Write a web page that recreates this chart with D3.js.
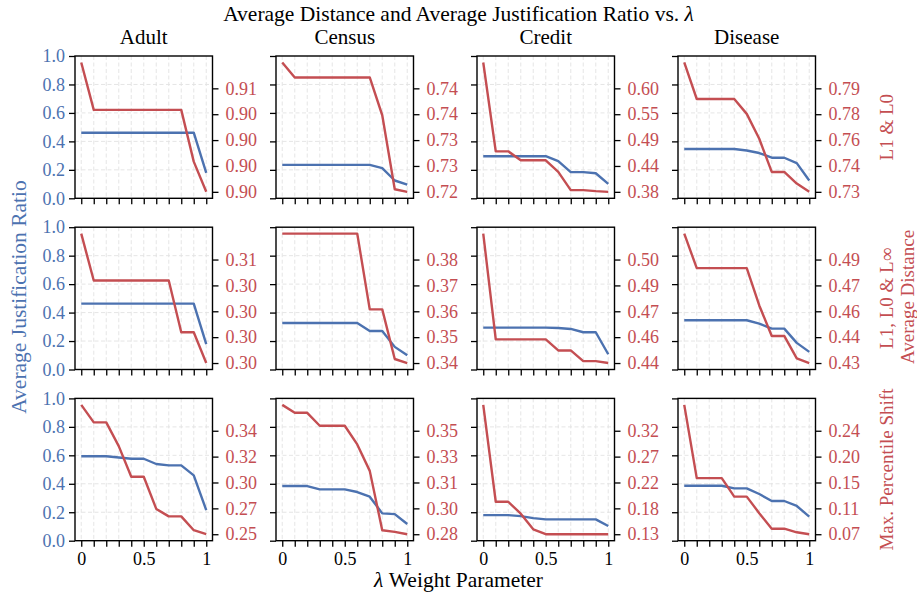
<!DOCTYPE html>
<meta charset="utf-8">
<script src="https://cdn.jsdelivr.net/npm/d3@7/dist/d3.min.js"></script>
<style>
  body { margin: 0; background: #fff; }
  svg text { font-family: "Liberation Serif", "DejaVu Serif", serif !important; }
</style>
<svg id="graph" width="917" height="594"></svg>
<script>

// lambda values on the x axis
var lambdas = [0, 0.1, 0.2, 0.3, 0.4, 0.5, 0.6, 0.7, 0.8, 0.9, 1];
var datasets = ["Adult", "Census", "Credit", "Disease"];
var rowLabels = ["L1 & L0", "L1, L0 & L\u221E", "Max. Percentile Shift"];

// average justification ratio (left axis, blue), one row per metric
var ratioL1L0 = [
  [0.461, 0.461, 0.461, 0.461, 0.461, 0.461, 0.461, 0.461, 0.461, 0.461, 0.179],
  [0.235, 0.235, 0.235, 0.235, 0.235, 0.235, 0.235, 0.235, 0.212, 0.125, 0.096],
  [0.296, 0.296, 0.296, 0.296, 0.296, 0.296, 0.261, 0.184, 0.184, 0.176, 0.101],
  [0.346, 0.346, 0.346, 0.346, 0.346, 0.336, 0.318, 0.285, 0.285, 0.247, 0.125]
];
var ratioL1L0Linf = [
  [0.463, 0.463, 0.463, 0.463, 0.463, 0.463, 0.463, 0.463, 0.463, 0.463, 0.178],
  [0.327, 0.327, 0.327, 0.327, 0.327, 0.327, 0.327, 0.271, 0.271, 0.159, 0.100],
  [0.294, 0.294, 0.294, 0.294, 0.294, 0.294, 0.292, 0.285, 0.262, 0.262, 0.107],
  [0.346, 0.346, 0.346, 0.346, 0.346, 0.346, 0.322, 0.287, 0.287, 0.187, 0.124]
];
var ratioPercentile = [
  [0.593, 0.593, 0.593, 0.585, 0.576, 0.576, 0.539, 0.529, 0.529, 0.459, 0.215],
  [0.384, 0.384, 0.384, 0.361, 0.361, 0.361, 0.342, 0.309, 0.192, 0.187, 0.117],
  [0.180, 0.180, 0.180, 0.173, 0.159, 0.150, 0.150, 0.150, 0.150, 0.150, 0.103],
  [0.386, 0.386, 0.386, 0.386, 0.368, 0.368, 0.328, 0.279, 0.279, 0.244, 0.169]
];

// average distance (right axis, red)
var distL1L0 = [
  [0.9080, 0.9047, 0.9047, 0.9047, 0.9047, 0.9047, 0.9047, 0.9047, 0.9047, 0.9011, 0.8990],
  [0.7455, 0.7426, 0.7426, 0.7426, 0.7426, 0.7426, 0.7426, 0.7426, 0.7353, 0.7210, 0.7205],
  [0.6530, 0.4675, 0.4675, 0.4489, 0.4489, 0.4489, 0.4246, 0.3865, 0.3865, 0.3844, 0.3830],
  [0.8080, 0.7854, 0.7854, 0.7854, 0.7854, 0.7762, 0.7608, 0.7403, 0.7403, 0.7331, 0.7280]
];
var distL1L0Linf = [
  [0.3075, 0.3046, 0.3046, 0.3046, 0.3046, 0.3046, 0.3046, 0.3046, 0.3014, 0.3014, 0.2995],
  [0.3890, 0.3890, 0.3890, 0.3890, 0.3890, 0.3890, 0.3890, 0.3609, 0.3609, 0.3425, 0.3410],
  [0.5155, 0.4542, 0.4542, 0.4542, 0.4542, 0.4542, 0.4478, 0.4478, 0.4416, 0.4416, 0.4405],
  [0.5050, 0.4850, 0.4850, 0.4850, 0.4850, 0.4850, 0.4634, 0.4457, 0.4457, 0.4327, 0.4300]
];
var distPercentile = [
  [0.3635, 0.3482, 0.3482, 0.3275, 0.3007, 0.3007, 0.2726, 0.2661, 0.2661, 0.2540, 0.2505],
  [0.3675, 0.3621, 0.3621, 0.3533, 0.3533, 0.3533, 0.3406, 0.3226, 0.2822, 0.2811, 0.2795],
  [0.3660, 0.1885, 0.1885, 0.1667, 0.1380, 0.1290, 0.1290, 0.1290, 0.1290, 0.1290, 0.1290],
  [0.2825, 0.1622, 0.1622, 0.1622, 0.1318, 0.1318, 0.1046, 0.0791, 0.0791, 0.0732, 0.0700]
];

// right axis tick labels, bottom to top
var distTicksL1L0 = [
  ["0.90", "0.90", "0.90", "0.90", "0.91"],
  ["0.72", "0.73", "0.73", "0.74", "0.74"],
  ["0.38", "0.44", "0.49", "0.55", "0.60"],
  ["0.73", "0.74", "0.76", "0.78", "0.79"]
];
var distTicksL1L0Linf = [
  ["0.30", "0.30", "0.30", "0.30", "0.31"],
  ["0.34", "0.35", "0.36", "0.37", "0.38"],
  ["0.44", "0.46", "0.47", "0.49", "0.50"],
  ["0.43", "0.44", "0.46", "0.47", "0.49"]
];
var distTicksPercentile = [
  ["0.25", "0.27", "0.30", "0.32", "0.34"],
  ["0.28", "0.30", "0.31", "0.33", "0.35"],
  ["0.13", "0.18", "0.22", "0.27", "0.32"],
  ["0.07", "0.11", "0.15", "0.20", "0.24"]
];
var ratioTicks = [0, 0.2, 0.4, 0.6, 0.8, 1.0];
var lambdaLabels = {0: "0", 0.5: "0.5", 1: "1"};

var ratioRows = [ratioL1L0, ratioL1L0Linf, ratioPercentile];
var distRows = [distL1L0, distL1L0Linf, distPercentile];
var tickRows = [distTicksL1L0, distTicksL1L0Linf, distTicksPercentile];

var blue = "#4C72B0", red = "#C44E52";
var serif = "'Liberation Serif', 'DejaVu Serif', serif";

var svg = d3.select("#graph"),
    W = +svg.attr("width"),
    plotW = 137.5, plotH = 142.3,
    left0 = 75, colStep = 201,
    top0 = 56, rowStep = 171.2;

var x = d3.scaleLinear().domain([-0.05, 1.05]).range([0, plotW]);
var yL = d3.scaleLinear().domain([0, 1]).range([plotH, 0]);

for (var r = 0; r < 3; r++) {
  for (var c = 0; c < 4; c++) {
    drawPanel(r, c);
  }
}

function drawPanel(r, c) {
  var g = svg.append("g")
      .attr("transform", "translate(" + (left0 + c * colStep) + "," + (top0 + r * rowStep) + ")");

  var ratio = ratioRows[r][c], dist = distRows[r][c], labels = tickRows[r][c];
  var lo = d3.min(dist), hi = d3.max(dist), span = hi - lo;
  var yR = d3.scaleLinear().domain([lo - 0.05 * span, hi + 0.05 * span]).range([plotH, 0]);
  var rTicks = labels.map(function(d, i) { return lo + i * span / 5; });

  // grid
  g.append("g").selectAll("line").data(lambdas).enter().append("line")
      .attr("x1", function(d) { return x(d); }).attr("x2", function(d) { return x(d); })
      .attr("y1", 0).attr("y2", plotH)
      .attr("stroke", "#e2e2e2").attr("stroke-width", 0.9).attr("stroke-dasharray", "4,2.5");
  g.append("g").selectAll("line").data(ratioTicks.slice(1, 5)).enter().append("line")
      .attr("x1", 0).attr("x2", plotW)
      .attr("y1", function(d) { return yL(d); }).attr("y2", function(d) { return yL(d); })
      .attr("stroke", "#e2e2e2").attr("stroke-width", 0.9).attr("stroke-dasharray", "4,2.5");

  // x axis
  var xAxis = d3.axisBottom(x).tickValues(lambdas).tickSize(6).tickPadding(6)
      .tickFormat(function(d) { return r == 2 && lambdaLabels[d] !== undefined ? lambdaLabels[d] : ""; });
  var gx = g.append("g").attr("transform", "translate(0," + plotH + ")").call(xAxis)
      .attr("font-family", serif).attr("font-size", 18);
  gx.select(".domain").remove();
  gx.selectAll("line").attr("stroke", "#000").attr("stroke-width", 1.3);
  gx.selectAll("text").attr("fill", "#000");

  // left axis
  var yAxisL = d3.axisLeft(yL).tickValues(ratioTicks).tickSize(6).tickPadding(4)
      .tickFormat(function(d) { return c == 0 ? d3.format(".1f")(d) : ""; });
  var gl = g.append("g").call(yAxisL)
      .attr("font-family", serif).attr("font-size", 18);
  gl.select(".domain").remove();
  gl.selectAll("line").attr("stroke", "#000").attr("stroke-width", 1.3);
  gl.selectAll("text").attr("fill", blue);

  // right axis
  var yAxisR = d3.axisRight(yR).tickValues(rTicks).tickSize(6).tickPadding(7)
      .tickFormat(function(d, i) { return labels[i]; });
  var gr = g.append("g").attr("transform", "translate(" + plotW + ",0)").call(yAxisR)
      .attr("font-family", serif).attr("font-size", 18);
  gr.select(".domain").remove();
  gr.selectAll("line").attr("stroke", "#000").attr("stroke-width", 1.3);
  gr.selectAll("text").attr("fill", red);

  // lines
  var lineL = d3.line().x(function(d, i) { return x(lambdas[i]); }).y(function(d) { return yL(d); });
  var lineR = d3.line().x(function(d, i) { return x(lambdas[i]); }).y(function(d) { return yR(d); });
  g.append("path").attr("d", lineL(ratio))
      .attr("fill", "none").attr("stroke", blue).attr("stroke-width", 2.4).attr("stroke-linejoin", "round");
  g.append("path").attr("d", lineR(dist))
      .attr("fill", "none").attr("stroke", red).attr("stroke-width", 2.4).attr("stroke-linejoin", "round");

  // frame
  g.append("rect").attr("width", plotW).attr("height", plotH)
      .attr("fill", "none").attr("stroke", "#000").attr("stroke-width", 1.4);

  if (r == 0) {
    g.append("text").attr("x", plotW / 2).attr("y", -12)
        .attr("text-anchor", "middle").attr("font-family", serif).attr("font-size", 21)
        .text(datasets[c]);
  }
  if (c == 3) {
    g.append("text")
        .attr("transform", "translate(" + (plotW + 71) + "," + (plotH / 2) + ") rotate(-90)")
        .attr("text-anchor", "middle").attr("dy", "0.35em")
        .attr("fill", red).attr("font-family", serif).attr("font-size", 19)
        .text(rowLabels[r]);
  }
}

// figure title and shared labels
var title = svg.append("text").attr("x", W / 2).attr("y", 21)
    .attr("text-anchor", "middle").attr("font-family", serif).attr("font-size", 21.5);
title.append("tspan").text("Average Distance and Average Justification Ratio vs. ");
title.append("tspan").style("font-style", "italic").text("\u03BB");

var xl = svg.append("text").attr("x", W / 2).attr("y", 587)
    .attr("text-anchor", "middle").attr("font-family", serif).attr("font-size", 21.5);
xl.append("tspan").style("font-style", "italic").text("\u03BB");
xl.append("tspan").text(" Weight Parameter");

svg.append("text")
    .attr("transform", "translate(18,297) rotate(-90)")
    .attr("text-anchor", "middle").attr("dy", "0.35em")
    .attr("fill", blue).attr("font-family", serif).attr("font-size", 21.5)
    .text("Average Justification Ratio");

svg.append("text")
    .attr("transform", "translate(907,297) rotate(-90)")
    .attr("text-anchor", "middle").attr("dy", "0.35em")
    .attr("fill", red).attr("font-family", serif).attr("font-size", 19)
    .text("Average Distance");

</script>
